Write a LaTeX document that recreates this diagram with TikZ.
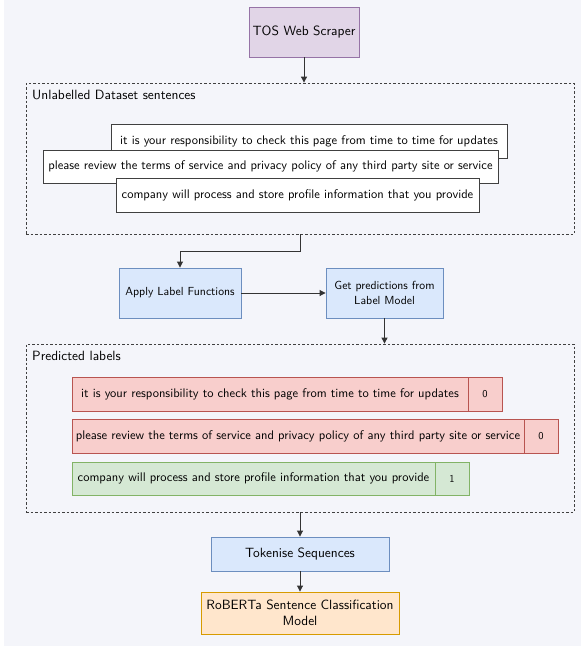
\documentclass[tikz,border=0pt]{standalone}
\usepackage{fontspec}
\setsansfont{lmsans10-regular.otf}[BoldFont=lmsans10-bold.otf]
\usetikzlibrary{arrows.meta}
\definecolor{bgc}{HTML}{F4F5FA}
\definecolor{purpf}{HTML}{E1D5E7}\definecolor{purpd}{HTML}{9673A6}
\definecolor{bluef}{HTML}{DAE8FC}\definecolor{blued}{HTML}{6C8EBF}
\definecolor{redf}{HTML}{F8CECC}\definecolor{redd}{HTML}{B85450}
\definecolor{greenf}{HTML}{D5E8D4}\definecolor{greend}{HTML}{82B366}
\definecolor{orangef}{HTML}{FFE6CC}\definecolor{oranged}{HTML}{D79B00}
\tikzset{
  box/.style={rectangle, inner sep=0pt, line width=0.9pt, anchor=center, align=center, text=black},
  bigtxt/.style={font=\sffamily\fontsize{13.4}{16.5}\selectfont},
  midtxt/.style={font=\sffamily\fontsize{11.7}{14.5}\selectfont},
  senttxt/.style={font=\sffamily\fontsize{12.5}{15}\selectfont},
  labtxt/.style={font=\sffamily\fontsize{10.5}{12}\selectfont},
  purplebox/.style={box, bigtxt, fill=purpf, draw=purpd},
  bluebox/.style={box, fill=bluef, draw=blued},
  orangebox/.style={box, bigtxt, fill=orangef, draw=oranged},
  whitebox/.style={box, senttxt, fill=white, draw=black!75},
  redbox/.style={box, fill=redf, draw=redd},
  greenbox/.style={box, fill=greenf, draw=greend},
  groupbox/.style={rectangle, inner sep=0pt, draw=black!75, line width=0.8pt, dash pattern=on 2.5pt off 2pt, anchor=center},
  heading/.style={inner sep=0pt, anchor=west, bigtxt, text=black},
  arr/.style={line width=0.9pt, draw=black!80, -{Triangle[length=6pt,width=6pt]}},
}
\begin{document}
\begin{tikzpicture}[x=1pt,y=-1pt]
\useasboundingbox (0,0) rectangle (581,648);
\fill[white] (0,0) rectangle (581,648);
\fill[bgc] (4,0) rectangle (581,646);

% top
\node[purplebox, minimum width=110pt, minimum height=50pt] (tos) at (304,32) {TOS Web Scraper};

% group 1
\node[groupbox, minimum width=548pt, minimum height=151pt] (ds1) at (300,158.5) {};
\node[heading] (h1) at (32,95) {Unlabelled Dataset sentences};
\node[whitebox, minimum width=396pt, minimum height=34pt] (s1) at (309,141) {it is your responsibility to check this page from time to time for updates};
\node[whitebox, minimum width=455pt, minimum height=33pt] (s2) at (270.5,166.5) {please review the terms of service and privacy policy of any third party site or service};
\node[whitebox, minimum width=363pt, minimum height=34pt] (s3) at (297.5,195) {company will process and store profile information that you provide};

% middle
\node[bluebox, midtxt, minimum width=122pt, minimum height=50pt] (apply) at (180,293) {Apply Label Functions};
\node[bluebox, midtxt, minimum width=117pt, minimum height=50pt] (get) at (384.5,293) {Get predictions from\\Label Model};

% group 2
\node[groupbox, minimum width=548pt, minimum height=168pt] (ds2) at (300,428) {};
\node[heading] (h2) at (32,356) {Predicted labels};
\node[redbox, senttxt, minimum width=396pt, minimum height=34pt] (p1) at (270,394) {it is your responsibility to check this page from time to time for updates};
\node[redbox, labtxt, minimum width=34pt, minimum height=34pt] (l1) at (485,394) {0};
\node[redbox, senttxt, minimum width=452pt, minimum height=34pt] (p2) at (298,436) {please review the terms of service and privacy policy of any third party site or service};
\node[redbox, labtxt, minimum width=34pt, minimum height=34pt] (l2) at (541,436) {0};
\node[greenbox, senttxt, minimum width=363pt, minimum height=33pt] (p3) at (253.5,478.5) {company will process and store profile information that you provide};
\node[greenbox, labtxt, minimum width=34pt, minimum height=33pt] (l3) at (452,478.5) {1};

% bottom
\node[bluebox, bigtxt, minimum width=178pt, minimum height=34pt] (tok) at (300,554) {Tokenise Sequences};
\node[orangebox, minimum width=198pt, minimum height=42pt] (rob) at (300,613) {RoBERTa Sentence Classification\\Model};

% connectors
\draw[arr] (tos.south) -- (tos.south |- ds1.north);
\draw[arr] (ds1.south) -- ++(0,17) -| (apply.north);
\draw[arr] (apply.east) -- (get.west);
\draw[arr] (get.south) -- (get.south |- ds2.north);
\draw[arr] (ds2.south) -- (tok.north);
\draw[arr] (tok.south) -- (rob.north);
\end{tikzpicture}
\end{document}
